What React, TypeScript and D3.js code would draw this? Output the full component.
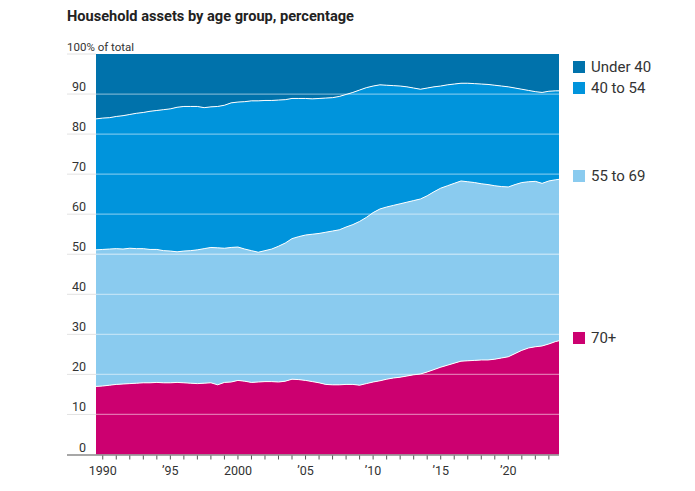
import { useEffect, useRef } from "react";
import * as d3 from "d3";

// quarter dates as decimal years (1989.5 = 1989 Q3)
const dates = [
  1989.5, 1990, 1990.5, 1991, 1991.5, 1992, 1992.5, 1993, 1993.5, 1994, 1994.5,
  1995, 1995.5, 1996, 1996.5, 1997, 1997.5, 1998, 1998.5, 1999, 1999.5,
  2000, 2000.5, 2001, 2001.5, 2002, 2002.5, 2003, 2003.5, 2004, 2004.5,
  2005, 2005.5, 2006, 2006.5, 2007, 2007.5, 2008, 2008.5, 2009, 2009.5,
  2010, 2010.5, 2011, 2011.5, 2012, 2012.5, 2013, 2013.5, 2014, 2014.5,
  2015, 2015.5, 2016, 2016.5, 2017, 2017.5, 2018, 2018.5, 2019, 2019.5,
  2020, 2020.5, 2021, 2021.5, 2022, 2022.5, 2023, 2023.5, 2023.75,
];

const under40 = [
  16.2, 16.0, 15.9, 15.6, 15.4, 15.1, 14.8, 14.6, 14.3, 14.1, 13.9,
  13.7, 13.3, 13.1, 13.1, 13.1, 13.4, 13.2, 13.1, 12.8, 12.2,
  12.0, 11.9, 11.7, 11.7, 11.6, 11.6, 11.5, 11.4, 11.1, 11.1,
  11.1, 11.2, 11.1, 11.0, 10.9, 10.6, 10.1, 9.6, 9.0, 8.4,
  8.0, 7.7, 7.8, 7.9, 8.0, 8.2, 8.5, 8.8, 8.5, 8.2,
  8.0, 7.7, 7.5, 7.3, 7.3, 7.4, 7.5, 7.6, 7.8, 8.0,
  8.2, 8.5, 8.8, 9.1, 9.4, 9.6, 9.3, 9.2, 9.2,
];

const age40to54 = [
  32.7, 32.8, 32.8, 33.0, 33.3, 33.4, 33.8, 34.0, 34.5, 34.7, 35.2,
  35.5, 36.1, 36.1, 36.0, 35.8, 35.2, 35.1, 35.3, 35.7, 36.1,
  36.2, 36.8, 37.4, 37.8, 37.5, 37.1, 36.5, 35.8, 35.0, 34.5,
  34.1, 33.8, 33.7, 33.5, 33.3, 33.3, 33.1, 33.0, 32.8, 32.4,
  31.6, 31.0, 30.4, 29.9, 29.4, 28.8, 28.1, 27.4, 26.9, 26.2,
  25.5, 25.2, 24.8, 24.4, 24.6, 24.7, 24.9, 25.0, 25.1, 25.1,
  25.0, 24.1, 23.3, 22.8, 22.4, 22.7, 22.4, 22.2, 22.1,
];

const age55to69 = [
  34.1, 34.1, 34.0, 33.9, 33.7, 33.8, 33.6, 33.5, 33.3, 33.2, 33.0,
  32.9, 32.6, 32.9, 33.1, 33.4, 33.6, 33.8, 34.2, 33.5, 33.6,
  33.3, 33.0, 32.9, 32.4, 32.7, 33.1, 33.9, 34.5, 35.1, 35.7,
  36.3, 36.8, 37.3, 38.0, 38.4, 38.7, 39.3, 39.9, 40.9, 41.5,
  42.3, 42.9, 43.0, 43.1, 43.3, 43.4, 43.5, 43.7, 44.0, 44.4,
  44.7, 44.8, 44.9, 45.0, 44.7, 44.4, 44.0, 43.8, 43.3, 42.8,
  42.4, 42.2, 41.9, 41.5, 41.3, 40.6, 40.7, 40.4, 40.3,
];

const age70plus = [
  17.0, 17.1, 17.3, 17.5, 17.6, 17.7, 17.8, 17.9, 17.9, 18.0, 17.9,
  17.9, 18.0, 17.9, 17.8, 17.7, 17.8, 17.9, 17.4, 18.0, 18.1,
  18.5, 18.3, 18.0, 18.1, 18.2, 18.2, 18.1, 18.3, 18.8, 18.7,
  18.5, 18.2, 17.9, 17.5, 17.4, 17.4, 17.5, 17.5, 17.3, 17.7,
  18.1, 18.4, 18.8, 19.1, 19.3, 19.6, 19.9, 20.1, 20.6, 21.2,
  21.8, 22.3, 22.8, 23.3, 23.4, 23.5, 23.6, 23.6, 23.8, 24.1,
  24.4, 25.2, 26.0, 26.6, 26.9, 27.1, 27.6, 28.2, 28.4,
];

const groups = ["Under 40", "40 to 54", "55 to 69", "70+"];
const groupColors = ["#0072ab", "#0094dc", "#8acbef", "#cc0070"];
const yTicks = [0, 10, 20, 30, 40, 50, 60, 70, 80, 90];
const xTickYears = [1990, 1995, 2000, 2005, 2010, 2015, 2020];
const xTickLabels = ["1990", "\u201995", "2000", "\u201905", "\u201910", "\u201915", "\u201920"];

const W = 695;
const H = 491;

export default function App() {
  const ref = useRef<SVGSVGElement | null>(null);

  useEffect(() => {
    if (!ref.current) return;
    const svg = d3.select(ref.current);
    svg.selectAll("*").remove();

    const font = "Roboto, 'Noto Sans', sans-serif";
    const left = 96;
    const right = 559;
    const top = 54;
    const bottom = 454.5;
    const labelLeft = 67;

    const x = d3.scaleLinear().domain([1989.5, 2023.75]).range([left, right]);
    const y = d3.scaleLinear().domain([0, 100]).range([bottom, top]);

    const rows = dates.map((d, i) => ({
      date: d,
      "Under 40": under40[i],
      "40 to 54": age40to54[i],
      "55 to 69": age55to69[i],
      "70+": age70plus[i],
    }));

    const keys = ["70+", "55 to 69", "40 to 54", "Under 40"];
    const stack = d3.stack<any>().keys(keys);
    const series = stack(rows);

    const area = d3
      .area<any>()
      .x((d) => x(d.data.date))
      .y0((d) => y(d[0]))
      .y1((d) => y(d[1]));

    const colorOf = (k: string) => groupColors[groups.indexOf(k)];

    svg
      .append("g")
      .selectAll("path")
      .data(series)
      .join("path")
      .attr("d", area as any)
      .attr("fill", (s) => colorOf(s.key));

    // grid lines: gray outside the plot, translucent white over the areas
    const grid = svg.append("g");
    [...yTicks.slice(1), 100].forEach((t) => {
      grid
        .append("line")
        .attr("x1", labelLeft)
        .attr("x2", left)
        .attr("y1", y(t))
        .attr("y2", y(t))
        .attr("stroke", "#e2e2e2")
        .attr("stroke-width", 1);
      if (t < 100) {
        grid
          .append("line")
          .attr("x1", left)
          .attr("x2", right)
          .attr("y1", y(t))
          .attr("y2", y(t))
          .attr("stroke", "#ffffff")
          .attr("stroke-opacity", 0.45)
          .attr("stroke-width", 1.3);
      }
    });

    // white boundaries between groups
    const line = d3
      .line<any>()
      .x((d) => x(d.data.date))
      .y((d) => y(d[1]));
    svg
      .append("g")
      .selectAll("path")
      .data(series.slice(0, 3))
      .join("path")
      .attr("d", line as any)
      .attr("fill", "none")
      .attr("stroke", "#ffffff")
      .attr("stroke-width", 1);

    // y labels
    svg
      .append("g")
      .selectAll("text")
      .data(yTicks)
      .join("text")
      .attr("x", 86)
      .attr("y", (d) => y(d) - 3)
      .attr("text-anchor", "end")
      .attr("font-family", font)
      .attr("font-size", 12.5)
      .attr("fill", "#333")
      .text((d) => String(d));

    svg
      .append("text")
      .attr("x", labelLeft)
      .attr("y", y(100) - 3)
      .attr("font-family", font)
      .attr("font-size", 11.5)
      .attr("fill", "#333")
      .text("100% of total");

    // x axis
    svg
      .append("line")
      .attr("x1", labelLeft)
      .attr("x2", right)
      .attr("y1", bottom + 0.5)
      .attr("y2", bottom + 0.5)
      .attr("stroke", "#8a8a8a")
      .attr("stroke-width", 1.5);

    const years = d3.range(1990, 2024);
    svg
      .append("g")
      .selectAll("line")
      .data(years)
      .join("line")
      .attr("x1", (d) => x(d))
      .attr("x2", (d) => x(d))
      .attr("y1", bottom + 1)
      .attr("y2", bottom + 5)
      .attr("stroke", "#555")
      .attr("stroke-width", 1);

    svg
      .append("g")
      .selectAll("text")
      .data(xTickYears)
      .join("text")
      .attr("x", (d) => x(d))
      .attr("y", 475)
      .attr("text-anchor", "middle")
      .attr("font-family", font)
      .attr("font-size", 12.5)
      .attr("fill", "#333")
      .text((d, i) => xTickLabels[i]);

    // title
    svg
      .append("text")
      .attr("x", labelLeft)
      .attr("y", 21)
      .attr("font-family", font)
      .attr("font-weight", "bold")
      .attr("font-size", 14.6)
      .attr("fill", "#222")
      .text("Household assets by age group, percentage");

    // legend
    const legendPos = [67, 88, 176, 338];
    const legend = svg.append("g");
    groups.forEach((g, i) => {
      legend
        .append("rect")
        .attr("x", 573)
        .attr("y", legendPos[i] - 6)
        .attr("width", 12)
        .attr("height", 12)
        .attr("fill", groupColors[i]);
      legend
        .append("text")
        .attr("x", 591)
        .attr("y", legendPos[i])
        .attr("dy", "0.36em")
        .attr("font-family", font)
        .attr("font-size", 15)
        .attr("fill", "#333")
        .text(g);
    });
  }, []);

  return (
    <svg
      ref={ref}
      width={W}
      height={H}
      style={{ position: "absolute", left: 0, top: 0, display: "block", background: "#fff" }}
    />
  );
}
